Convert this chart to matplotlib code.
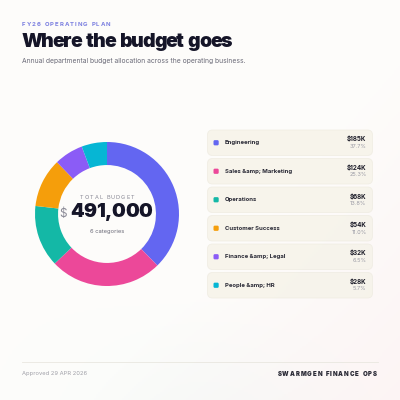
import numpy as np
import matplotlib.pyplot as plt
from matplotlib.patches import FancyBboxPatch

labels = ['Engineering', 'Sales &amp; Marketing', 'Operations',
          'Customer Success', 'Finance &amp; Legal', 'People &amp; HR']
values = [185, 124, 68, 54, 32, 28]          # $K
shares = ['37.7%', '25.3%', '13.8%', '11.0%', '6.5%', '5.7%']
colors = ['#6366f1', '#ec4899', '#14b8a6', '#f59e0b', '#8b5cf6', '#06b6d4']
total = '491,000'

W, H = 400, 400
fig = plt.figure(figsize=(4, 4), dpi=100)
plt.rcParams['font.family'] = ['Inter', 'DejaVu Sans']

# background with a faint gradient
bg = fig.add_axes([0, 0, 1, 1])
bg.set_xlim(0, W)
bg.set_ylim(H, 0)
bg.axis('off')
yy, xx = np.mgrid[0:1:200j, 0:1:200j]
base = np.array([0.993, 0.991, 0.984])
pink = np.array([0.99, 0.955, 0.955])
green = np.array([0.955, 0.982, 0.972])
wp = (np.clip((xx * 0.7 + yy * 0.6) - 0.75, 0, 1) * 1.6).clip(0, 1)[..., None]
wg = (np.clip(yy - 0.75, 0, 1) * 2.0 * np.exp(-((xx - 0.5) / 0.3) ** 2))[..., None]
img = base * (1 - wp - wg).clip(0, 1) + pink * wp + green * wg
bg.imshow(img.clip(0, 1), extent=[0, W, H, 0], aspect='auto', zorder=0)


def spaced(ax, x, y, s, spacing, ha='left', **kw):
    r = fig.canvas.get_renderer()
    widths = []
    for ch in s:
        t = ax.text(0, 0, ch if ch != ' ' else 'n', **kw)
        bb = t.get_window_extent(renderer=r)
        widths.append(bb.width * (0.5 if ch == ' ' else 1))
        t.remove()
    tot = sum(widths) + spacing * (len(s) - 1)
    if ha == 'right':
        x = x - tot
    elif ha == 'center':
        x = x - tot / 2
    for ch, w in zip(s, widths):
        ax.text(x, y, ch, ha='left', va='center', **kw)
        x += w + spacing


# header
spaced(bg, 22, 24.5, 'FY26 OPERATING PLAN', 1.0, fontsize=4.3,
       color='#7b7fe0', fontweight='bold')
spaced(bg, 21.5, 42, 'Where the budget goes', -1.25, fontsize=14,
       fontweight='black', color='#151528')
bg.text(22, 61.5, 'Annual departmental budget allocation across the operating business.',
        fontsize=4.85, color='#6b6b78', va='center', ha='left')

# donut
ax = fig.add_axes([(107 - 72) / W, 1 - (214 + 72) / H, 144 / W, 144 / H])
ax.pie(values, colors=colors, startangle=90, counterclock=False,
       wedgeprops=dict(width=0.32, edgecolor='none'), radius=1.0)
ax.set_xlim(-1, 1)
ax.set_ylim(-1, 1)
ax.set_aspect('equal')
ax.axis('off')

spaced(bg, 107, 197.5, 'TOTAL BUDGET', 1.0, ha='center', fontsize=4.0,
       color='#8a8a96')
spaced(bg, 70, 212, total, -0.3, fontsize=14, fontweight='black',
       color='#151528')
bg.text(67, 214.5, '$', fontsize=8.5, color='#8a8a96', va='center',
        ha='right')
bg.text(107, 231.5, '6 categories', fontsize=4.2, color='#6b6b78',
        va='center', ha='center')

# legend cards
top0, pitch, ch = 130, 28.5, 25.5
for i, (lab, v, sh, c) in enumerate(zip(labels, values, shares, colors)):
    y0 = top0 + i * pitch
    card = FancyBboxPatch((207.5, y0), 165, ch,
                          boxstyle='round,pad=0,rounding_size=5',
                          facecolor='#f6f3e9', edgecolor='#efece2', lw=0.6,
                          alpha=0.85, zorder=2)
    bg.add_patch(card)
    bg.add_patch(FancyBboxPatch((213.5, y0 + ch / 2 - 2.6), 5.2, 5.2,
                                boxstyle='round,pad=0,rounding_size=1.3',
                                facecolor=c, edgecolor='none', zorder=3))
    bg.text(225, y0 + ch / 2, lab, fontsize=4.3, fontweight='bold',
            color='#2a2a36', va='center', ha='left', zorder=4)
    bg.text(366.5, y0 + 9, '$%dK' % v, fontsize=4.5, fontweight='bold',
            color='#1e1e2a', va='center', ha='right', zorder=4)
    bg.text(366.5, y0 + 16.5, sh, fontsize=4.0, color='#9a9aa4',
            va='center', ha='right', zorder=4)

# footer
bg.plot([22, 378], [362, 362], color='#e9e7e0', lw=0.6)
bg.text(22, 374, 'Approved 29 APR 2026', fontsize=4.2, color='#a0a0a8',
        va='center', ha='left')
spaced(bg, 377, 374, 'SWARMGEN FINANCE OPS', 0.9, ha='right', fontsize=4.4,
       fontweight='black', color='#2a2a36')

fig.savefig('out.png', dpi=100)
